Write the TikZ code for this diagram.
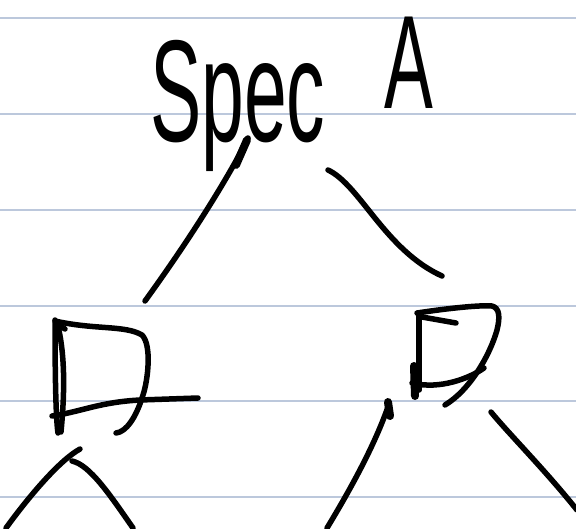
\documentclass[tikz,border=0pt]{standalone}
\usepackage{fontspec}
\setmainfont{Liberation Sans}
\begin{document}
\begin{tikzpicture}[x=1pt,y=-1pt,
  rule/.style={draw={rgb,255:red,188;green,200;blue,220},line width=2pt},
  ink/.style={draw=black,line width=5.5pt,line cap=round,line join=round},
  blob/.style={draw=black,line width=8pt,line cap=round},
  hand/.style={inner sep=0pt,text=black}]
\useasboundingbox (0,0) rectangle (576,528);
\fill[white] (0,0) rectangle (576,528);
% ruled lines
\foreach \yy in {18,114,210,306,401,497}
  \draw[rule] (0,\yy) -- (576,\yy);
% texts
\node[hand,anchor=base west] (spec) at (150,141)
  {\fontsize{145}{145}\selectfont\scalebox{0.53}[1]{Spec}};
\node[hand,anchor=base] (a) at (409,108)
  {\fontsize{133}{133}\selectfont\scalebox{0.55}[1]{A}};
% named points
\coordinate (lt) at (248,138);
\coordinate (le) at (145,301);
\coordinate (rt) at (328,170);
\coordinate (re) at (442,276);
% connectors from Spec
\draw[ink] (lt) .. controls (235,165) and (200,225) .. (le);
\draw[blob] (247,140) -- (236,165);
\draw[ink] (rt) .. controls (360,185) and (385,250) .. (re);
% left box
\draw[ink] (55,320) .. controls (55,380) and (56,420) .. (58,433);
\draw[ink] (58,326) .. controls (66,360) and (64,400) .. (61,432);
\draw[ink] (55,321) .. controls (95,330) and (125,325) .. (142,335)
  .. controls (152,345) and (148,380) .. (143,395)
  .. controls (136,418) and (126,432) .. (116,433);
\draw[ink] (52,416) .. controls (80,412) and (100,402) .. (140,400) -- (198,398);
\draw[ink] (60,326) -- (65,329);
% right box
\draw[ink] (419,313) -- (419,390);
\draw[blob] (414,366) -- (415,396);
\draw[ink] (417,313) .. controls (450,308) and (480,305) .. (492,306)
  .. controls (500,308) and (500,318) .. (497,330)
  .. controls (490,355) and (470,390) .. (445,405);
\draw[ink] (422,317) -- (456,323);
\draw[ink] (412,383) .. controls (440,390) and (470,378) .. (484,368);
% lower connectors
\coordinate (la) at (6,528);
\coordinate (lb) at (133,528);
\draw[ink] (la) .. controls (30,495) and (60,460) .. (80,449);
\draw[ink] (72,461) .. controls (90,465) and (110,495) .. (lb);
\coordinate (ma) at (389,404);
\coordinate (mb) at (327,528);
\draw[ink] (ma) .. controls (375,445) and (350,490) .. (mb);
\draw[blob] (388,402) -- (390,416);
\coordinate (ra) at (491,412);
\coordinate (rb) at (577,510);
\draw[ink] (ra) .. controls (510,435) and (545,470) .. (rb);
\end{tikzpicture}
\end{document}
